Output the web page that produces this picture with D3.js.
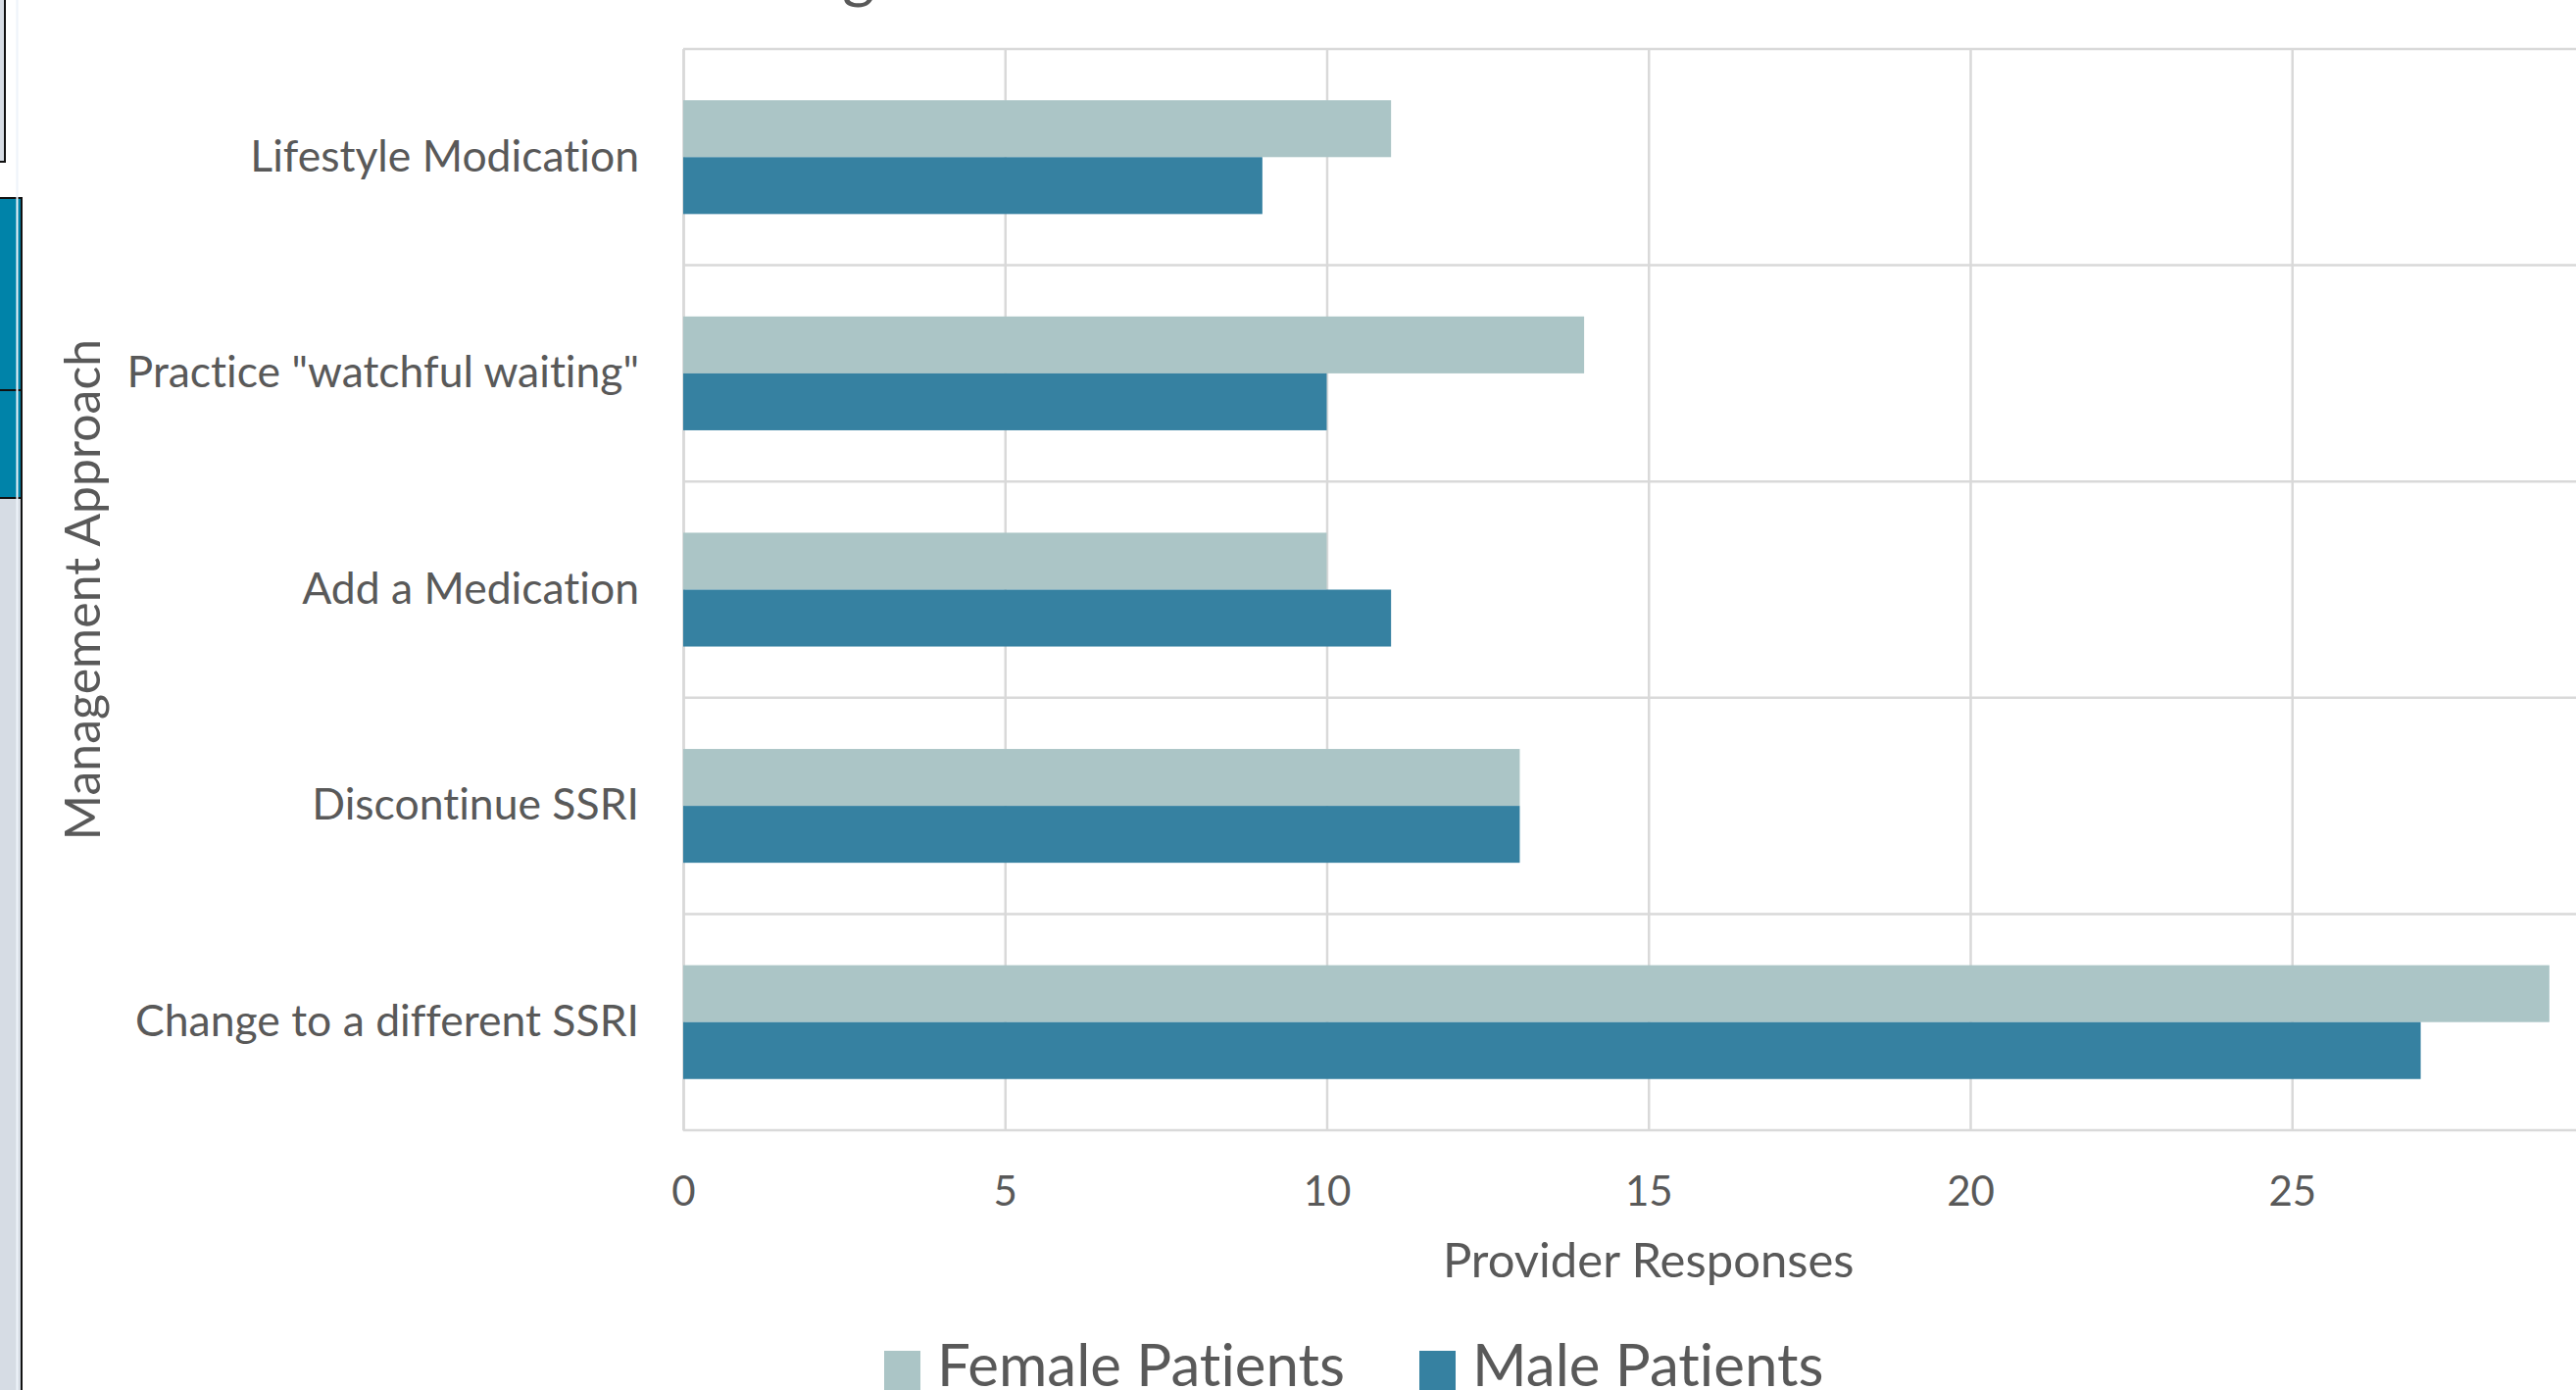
<!DOCTYPE html>
<html>
<head>
<meta charset="utf-8">
<script src="https://cdn.jsdelivr.net/npm/d3@7"></script>
<style>
  html, body { margin: 0; padding: 0; background: #ffffff; overflow: hidden; }
  svg { display: block; }
  text { font-family: Lato, "Open Sans", sans-serif; fill: #595959; font-variant-ligatures: none; }
</style>
</head>
<body>
<svg id="chart" width="2628" height="1418"></svg>
<script>
// Management approaches, listed top to bottom
const categories = [
  "Lifestyle Modication",
  "Practice \"watchful waiting\"",
  "Add a Medication",
  "Discontinue SSRI",
  "Change to a different SSRI"
];
const seriesNames = ["Female Patients", "Male Patients"];
const femaleValues = [11, 14, 10, 13, 29];
const maleValues = [9, 10, 11, 13, 27];
const xTicks = [0, 5, 10, 15, 20, 25];

const colors = { "Female Patients": "#abc5c6", "Male Patients": "#3681a1" };
const gridColor = "#d9d9d9";

const rows = categories.map((c, i) => ({
  category: c,
  values: [
    { series: seriesNames[0], value: femaleValues[i] },
    { series: seriesNames[1], value: maleValues[i] }
  ]
}));

const svg = d3.select("#chart");

// Neighbouring slide elements showing at the left edge
const side = svg.append("g");
side.append("rect").attr("x", -4).attr("y", -4).attr("width", 9).attr("height", 169)
  .attr("fill", "#d6dce4").attr("stroke", "#111").attr("stroke-width", 2);
side.append("rect").attr("x", -4).attr("y", 202).attr("width", 26).attr("height", 306)
  .attr("fill", "#0083a9").attr("stroke", "#111").attr("stroke-width", 2);
side.append("line").attr("x1", 0).attr("x2", 22).attr("y1", 398).attr("y2", 398)
  .attr("stroke", "#111").attr("stroke-width", 2);
side.append("rect").attr("x", -4).attr("y", 508).attr("width", 26).attr("height", 920)
  .attr("fill", "#d6dce4").attr("stroke", "#111").attr("stroke-width", 2);
side.append("line").attr("x1", 17.5).attr("x2", 17.5).attr("y1", 0).attr("y2", 1418)
  .attr("stroke", "#eef3fa").attr("stroke-width", 2);

// Chart title, mostly above the visible area
svg.append("text").attr("x", 876).attr("y", -4).attr("text-anchor", "middle")
  .style("font-size", "64px").text("g");

// Plot area (the value axis runs to 30, past the right edge)
const plot = { left: 697, top: 50, bottom: 1153 };
const x = d3.scaleLinear().domain([0, 30]).range([plot.left, plot.left + 30 * 65.65]);
const y = d3.scaleBand().domain(categories).range([plot.top, plot.bottom]).padding(0);
const ySub = d3.scaleBand().domain(seriesNames).range([0, y.bandwidth()])
  .paddingInner(0).paddingOuter(0.9);

// Vertical gridlines and value labels
const xAxis = svg.append("g")
  .attr("transform", `translate(0,${plot.bottom})`)
  .call(d3.axisBottom(x).tickValues(xTicks).tickSize(-(plot.bottom - plot.top)).tickPadding(0));
xAxis.select(".domain").remove();
xAxis.selectAll(".tick line").attr("stroke", gridColor).attr("stroke-width", 2.5);
xAxis.selectAll(".tick text")
  .attr("y", 62).attr("dy", "0.35em")
  .attr("fill", "#595959")
  .style("font-family", "Lato, sans-serif")
  .style("font-size", "42px");

// Horizontal gridlines at category boundaries
const bounds = categories.map(c => y(c)).concat([plot.bottom]);
svg.append("g").selectAll("line").data(bounds).join("line")
  .attr("x1", plot.left).attr("x2", x(30))
  .attr("y1", d => d).attr("y2", d => d)
  .attr("stroke", gridColor).attr("stroke-width", 2.5);

// Category labels
const yAxis = svg.append("g")
  .attr("transform", `translate(${plot.left},0)`)
  .call(d3.axisLeft(y).tickSize(0).tickPadding(45));
yAxis.select(".domain").attr("stroke", gridColor).attr("stroke-width", 2.5);
yAxis.selectAll(".tick text")
  .attr("fill", "#595959")
  .style("font-family", "Lato, sans-serif")
  .style("font-size", "44.5px");

// Bars
const groups = svg.append("g").selectAll("g").data(rows).join("g")
  .attr("transform", d => `translate(0,${y(d.category)})`);
groups.selectAll("rect").data(d => d.values).join("rect")
  .attr("x", x(0))
  .attr("y", d => ySub(d.series))
  .attr("width", d => x(d.value) - x(0))
  .attr("height", ySub.bandwidth())
  .attr("fill", d => colors[d.series]);

// Axis titles
svg.append("text")
  .attr("x", (x(0) + x(30)) / 2).attr("y", 1286).attr("dy", "0.35em")
  .attr("text-anchor", "middle").style("font-size", "49px")
  .text("Provider Responses");
svg.append("text")
  .attr("transform", `translate(84,${(plot.top + plot.bottom) / 2}) rotate(-90)`)
  .attr("dy", "0.35em").attr("text-anchor", "middle").style("font-size", "50px")
  .text("Management Approach");

// Legend
const legend = svg.append("g");
const legendItems = [
  { name: seriesNames[0], x: 902 },
  { name: seriesNames[1], x: 1448 }
];
const li = legend.selectAll("g").data(legendItems).join("g")
  .attr("transform", d => `translate(${d.x},0)`);
li.append("rect").attr("x", 0).attr("y", 1378).attr("width", 37).attr("height", 40)
  .attr("fill", d => colors[d.name]);
li.append("text").attr("x", 54).attr("y", 1414)
  .style("font-size", "60px").text(d => d.name);
</script>
</body>
</html>
